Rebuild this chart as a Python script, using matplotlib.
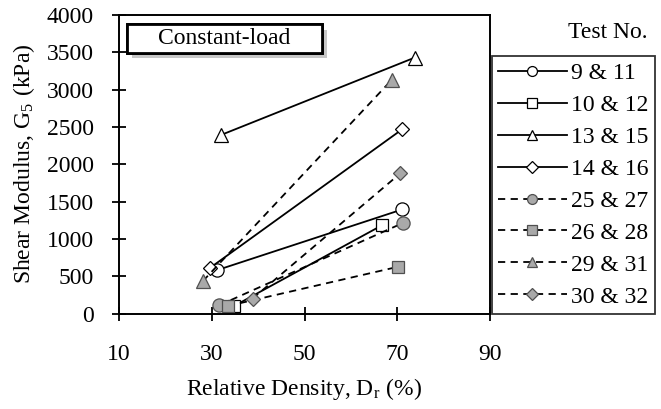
import matplotlib
matplotlib.use("Agg")
import matplotlib.pyplot as plt
import matplotlib.patheffects as pe
from matplotlib.patches import Rectangle

plt.rcParams["font.family"] = ["Liberation Serif", "DejaVu Serif"]
plt.rcParams["mathtext.fontset"] = "stix"

# Relative density (%) and shear modulus (kPa), one pair per test series
labels = ["9 & 11", "10 & 12", "13 & 15", "14 & 16",
          "25 & 27", "26 & 28", "29 & 31", "30 & 32"]
dr = [
    [31.1, 71.1],
    [34.8, 66.8],
    [31.9, 73.8],
    [29.6, 71.1],
    [31.6, 71.3],
    [33.4, 70.1],
    [28.1, 68.8],
    [38.8, 70.7],
]
g5 = [
    [580, 1395],
    [100, 1185],
    [2390, 3430],
    [610, 2470],
    [110, 1215],
    [100, 625],
    [435, 3130],
    [200, 1880],
]
markers = ["o", "s", "^", "D", "o", "s", "^", "D"]
filled = [False, False, False, False, True, True, True, True]

x_ticks = [10, 30, 50, 70, 90]
y_ticks = list(range(0, 4001, 500))

FS = 17
GRAY = "#a9a9a9"
MSIZE = {"o": 9.5, "s": 9, "^": 9.5, "D": 7.5}

fig = plt.figure(figsize=(6.61, 4.09), dpi=100)
ax = fig.add_axes([119 / 661, 1 - 313.5 / 409, (490 - 119) / 661, (313.5 - 15) / 409])

for x, y, lab, m, f in zip(dr, g5, labels, markers, filled):
    ax.plot(x, y, color="black", lw=1.3,
            linestyle=(0, (4, 3)) if f else "-",
            marker=m, markersize=MSIZE[m],
            markerfacecolor=GRAY if f else "white",
            markeredgecolor="#505050" if f else "black",
            markeredgewidth=0.9, label=lab, clip_on=False)

ax.set_xlim(10, 90)
ax.set_ylim(0, 4000)
ax.set_xticks(x_ticks)
ax.set_yticks(y_ticks)
ax.tick_params(direction="inout", length=10, width=1.3, labelsize=FS, colors="black")
ax.tick_params(axis="y", pad=13)
ax.tick_params(axis="x", pad=17)
for s in ax.spines.values():
    s.set_linewidth(1.4)

ax.set_xlabel(r"Relative Density, D$_\mathregular{r}$ (%)", fontsize=FS, labelpad=8)
ax.set_ylabel(r"Shear Modulus, G$_\mathregular{5}$ (kPa)", fontsize=FS, labelpad=7)

# "Constant-load" label box with drop shadow
box = Rectangle((126.7 / 661, 1 - 52.7 / 409), (321.7 - 126.7) / 661, (52.7 - 24) / 409,
                transform=fig.transFigure, facecolor="white", edgecolor="black", lw=2,
                path_effects=[pe.withSimplePatchShadow(offset=(4, -4), shadow_rgbFace="#999999", alpha=0.55),
                              pe.Normal()])
fig.add_artist(box)
fig.text(224 / 661, 1 - 38.5 / 409, "Constant-load", ha="center", va="center", fontsize=FS)

fig.text(608 / 661, 1 - 33 / 409, "Test No.", ha="center", va="center", fontsize=FS)
leg = ax.legend(loc="upper left", bbox_to_anchor=(491.5 / 661, 1 - 56 / 409),
                bbox_transform=fig.transFigure, fontsize=FS, frameon=True, fancybox=False,
                edgecolor="black", handlelength=2.9, handletextpad=0.2, labelspacing=0.44,
                borderpad=0.28, borderaxespad=0, markerscale=0.75)
leg.get_frame().set_linewidth(1.3)

fig.savefig("out.png", dpi=100, facecolor="white")
